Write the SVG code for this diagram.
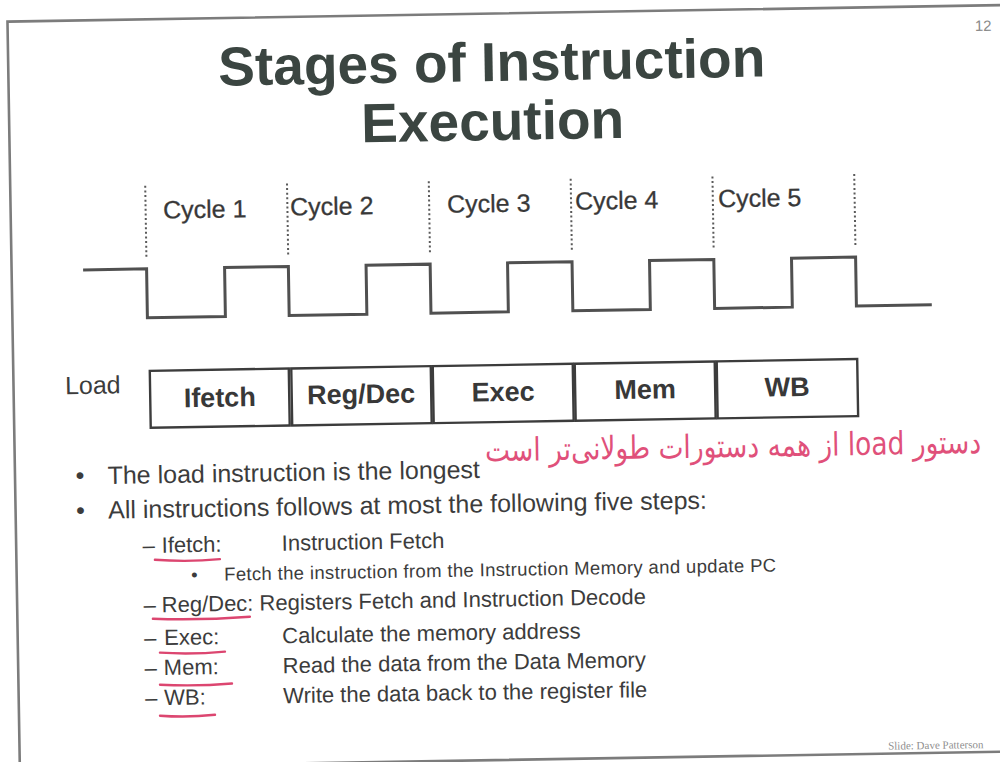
<svg xmlns="http://www.w3.org/2000/svg" width="1000" height="762" viewBox="0 0 1000 762">
  <style>
    .title { font-family: "Liberation Sans", Arial, sans-serif; font-weight: bold; font-size: 55px; fill: #3b4541; text-anchor: middle; }
    .cyc { font-family: "Liberation Sans", Arial, sans-serif; font-size: 25px; fill: #383838; stroke: #383838; stroke-width: 0.3; }
    .box { fill: #ffffff; stroke: #3c3c3c; stroke-width: 2.4; }
    .blbl { font-family: "Liberation Sans", Arial, sans-serif; font-weight: bold; font-size: 27px; fill: #383838; text-anchor: middle; }
    .body { font-family: "Liberation Sans", Arial, sans-serif; fill: #3c3c3c; }
    .b1 { font-size: 25px; }
    .b2 { font-size: 22px; }
    .b3 { font-size: 18.5px; }
    .ink { fill: none; stroke: #dc4670; stroke-width: 2.4; stroke-linecap: round; }
    .tick { stroke: #5a5a5a; stroke-width: 2; stroke-dasharray: 2 2.6; }
    .wave { fill: none; stroke: #505050; stroke-width: 3; }
  </style>
  <rect x="0" y="0" width="1000" height="762" fill="#ffffff"/>
  <g transform="rotate(-0.95 500 381)">
    <!-- slide frame -->
    <rect id="frame" x="13.5" y="13.5" width="1010" height="746.5" fill="none" stroke="#7c7c7c" stroke-width="2.6"/>
    <text id="page-no" x="989" y="39" font-family="Liberation Sans, Arial, sans-serif" font-size="15" fill="#8a8a8a" text-anchor="middle">12</text>

    <g id="title">
      <text class="title" x="497" y="81">Stages of Instruction</text>
      <text class="title" x="497" y="140">Execution</text>
    </g>

    <!-- cycle labels -->
    <g id="cycles">
      <text id="cycle-1" class="cyc" x="166" y="213">Cycle 1</text>
      <text id="cycle-2" class="cyc" x="293" y="212">Cycle 2</text>
      <text id="cycle-3" class="cyc" x="450" y="212">Cycle 3</text>
      <text id="cycle-4" class="cyc" x="578" y="211">Cycle 4</text>
      <text id="cycle-5" class="cyc" x="721" y="211">Cycle 5</text>
    </g>

    <!-- clock: cycle boundaries and waveform -->
    <g id="connectors">
      <line class="tick" x1="148.5" y1="180" x2="148.5" y2="251"/>
      <line class="tick" x1="290.3" y1="180" x2="290.3" y2="251"/>
      <line class="tick" x1="432.1" y1="180" x2="432.1" y2="251"/>
      <line class="tick" x1="574" y1="180" x2="574" y2="251"/>
      <line class="tick" x1="715.8" y1="180" x2="715.8" y2="251"/>
      <line class="tick" x1="857.6" y1="180" x2="857.6" y2="251"/>
      <path id="clock" class="wave" d="M85,263 H148.5 V312 H226.5 V263 H290.3 V312 H368 V263 H432.1 V312 H509.5 V263 H574 V312 H651.5 V263 H715.8 V312 H793.5 V263 H857.6 V312 H933"/>
    </g>

    <!-- load instruction stages -->
    <text id="load" class="body" x="65" y="387" font-size="25">Load</text>
    <g id="stage-ifetch">
      <rect class="box" x="150" y="365" width="139" height="57"/>
      <text class="blbl" x="219.5" y="402">Ifetch</text>
    </g>
    <g id="stage-regdec">
      <rect class="box" x="291.5" y="365" width="139.5" height="57"/>
      <text class="blbl" x="361" y="401">Reg/Dec</text>
    </g>
    <g id="stage-exec">
      <rect class="box" x="433" y="365" width="140" height="57"/>
      <text class="blbl" x="503" y="401">Exec</text>
    </g>
    <g id="stage-mem">
      <rect class="box" x="575" y="365" width="140" height="57"/>
      <text class="blbl" x="645" y="401">Mem</text>
    </g>
    <g id="stage-wb">
      <rect class="box" x="717" y="365" width="140.5" height="57"/>
      <text class="blbl" x="787" y="401">WB</text>
    </g>

    <!-- handwritten note -->
    <text id="note" x="732" y="461" font-family="DejaVu Sans, sans-serif" font-size="32" fill="#e0507a" text-anchor="middle" direction="rtl" textLength="496" lengthAdjust="spacingAndGlyphs">دستور load از همه دستورات طولانی‌تر است</text>

    <!-- bullet list -->
    <g id="bullets" class="body">
      <text class="b1" x="74" y="477">•</text>
      <text class="b1" x="106" y="477.5">The load instruction is the longest</text>
      <text class="b1" x="74" y="512">•</text>
      <text class="b1" x="106" y="512">All instructions follows at most the following five steps:</text>

      <text class="b2" x="140" y="547">–</text>
      <text class="b2" x="159" y="547">Ifetch:</text>
      <text class="b2" x="279" y="547">Instruction Fetch</text>
      <text class="b3" x="188" y="576">•</text>
      <text class="b3" x="221" y="576" textLength="552">Fetch the instruction from the Instruction Memory and update PC</text>

      <text class="b2" x="140" y="606.5">–</text>
      <text class="b2" x="158" y="606.5">Reg/Dec: Registers Fetch and Instruction Decode</text>

      <text class="b2" x="140" y="639.5">–</text>
      <text class="b2" x="160" y="639.5">Exec:</text>
      <text class="b2" x="278" y="639.5">Calculate the memory address</text>

      <text class="b2" x="140" y="669.5">–</text>
      <text class="b2" x="159" y="669.5">Mem:</text>
      <text class="b2" x="278" y="669.5">Read the data from the Data Memory</text>

      <text class="b2" x="140" y="699.5">–</text>
      <text class="b2" x="159" y="699.5">WB:</text>
      <text class="b2" x="278" y="699.5">Write the data back to the register file</text>
    </g>

    <!-- pen underlines -->
    <g id="underlines">
      <path class="ink" d="M152,554 Q185,557 217,554.5"/>
      <path class="ink" d="M149,613 Q197,615.5 246,612.5"/>
      <path class="ink" d="M155.5,647 Q188,649.5 220.5,647"/>
      <path class="ink" d="M155,679 Q191,681.5 227,679"/>
      <path class="ink" d="M154.5,710 Q182,712.5 209.5,710"/>
    </g>

    <text id="credit" x="882" y="756" font-family="Liberation Serif, Times New Roman, serif" font-size="11" fill="#8f8f8f">Slide: Dave Patterson</text>
  </g>
</svg>
